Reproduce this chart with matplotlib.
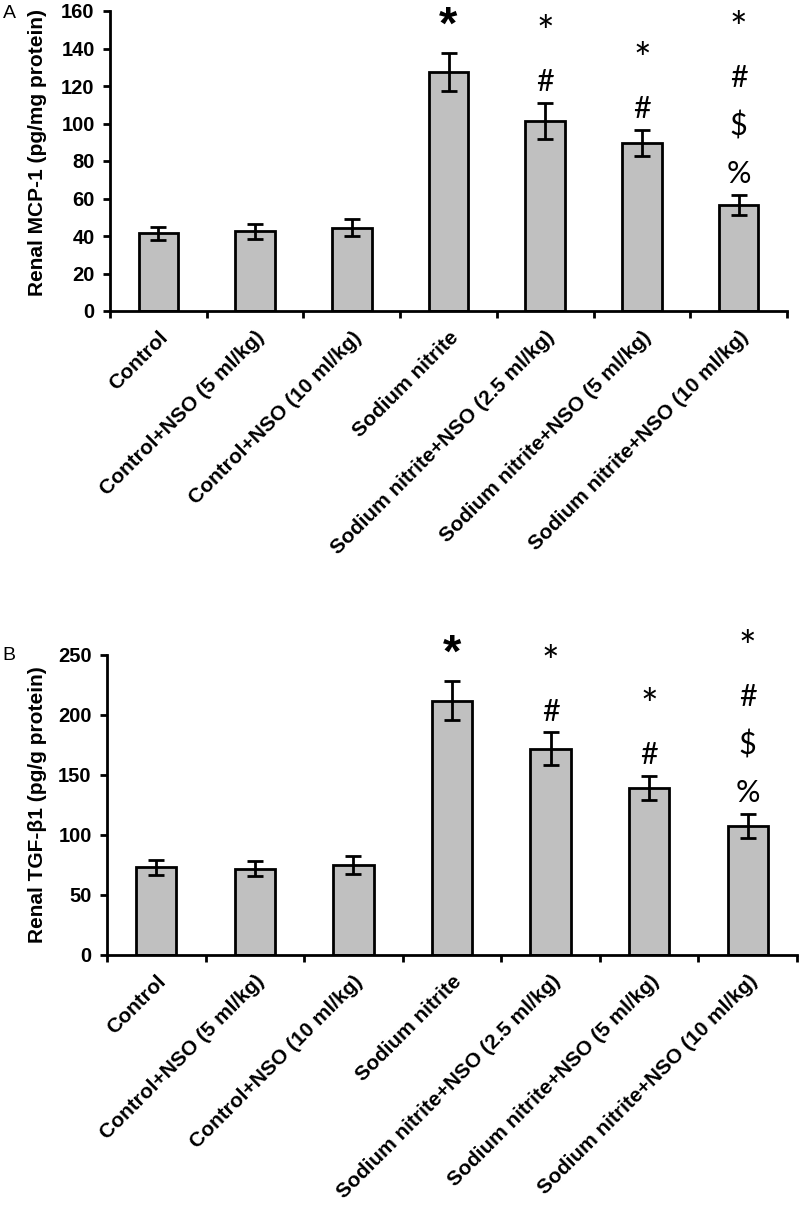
import numpy as np
import matplotlib
matplotlib.use('Agg')
import matplotlib.pyplot as plt

groups = ['Control', 'Control+NSO (5 ml/kg)', 'Control+NSO (10 ml/kg)', 'Sodium nitrite',
          'Sodium nitrite+NSO (2.5 ml/kg)', 'Sodium nitrite+NSO (5 ml/kg)',
          'Sodium nitrite+NSO (10 ml/kg)']

mcp1_mean = [41.5, 42.5, 44.5, 127.5, 101.5, 89.5, 56.5]
mcp1_sem = [3.5, 4.0, 4.5, 10.0, 9.5, 7.0, 5.5]

tgfb1_mean = [73.0, 72.0, 75.0, 212.0, 172.0, 139.0, 107.5]
tgfb1_sem = [6.5, 6.0, 7.5, 16.0, 13.5, 10.0, 10.0]

# significance symbols per group, listed from the bar upwards
marks = [[], [], [], ['*'], ['#', '*'], ['#', '*'], ['%', '$', '#', '*']]

AX_FONT = 'Liberation Sans'
SYM_FONT = 'Lato'


def draw_panel(ax, means, sems, ymax, ystep, ylabel, label_x, label_y):
    x = np.arange(len(groups))
    ax.bar(x, means, width=0.41, color='#c0c0c0', edgecolor='black', linewidth=2, zorder=2)
    ax.errorbar(x, means, yerr=sems, fmt='none', ecolor='black', elinewidth=2,
                capsize=5.5, capthick=2, zorder=3)

    for i, syms in enumerate(marks):
        top = means[i] + sems[i]
        for k, s in enumerate(syms):
            if i == 3:
                # the plain sodium nitrite group has a larger, heavier star
                ax.annotate(s, (x[i], top), xytext=(0, 19), textcoords='offset points',
                            ha='center', va='center', fontsize=34, fontweight='bold',
                            family=AX_FONT, annotation_clip=False)
            else:
                size = 30 if s == '*' else 22
                ax.annotate(s, (x[i], top), xytext=(0, 15 + 34.5 * k), textcoords='offset points',
                            ha='center', va='center', fontsize=size, family=SYM_FONT,
                            annotation_clip=False)

    ax.set_xlim(-0.5, len(groups) - 0.5)
    ax.set_ylim(0, ymax)
    ax.set_yticks(np.arange(0, ymax + 1, ystep))
    ax.set_xticks(x)
    ax.set_xticklabels(groups, rotation=45, ha='right', va='top', rotation_mode='anchor',
                       fontsize=15, fontweight='bold', family=AX_FONT)
    ax.set_xticks(np.arange(-0.5, len(groups), 1), minor=True)
    ax.tick_params(axis='x', which='major', length=0, pad=12)
    ax.tick_params(axis='x', which='minor', length=5, width=2, direction='out')
    ax.tick_params(axis='y', length=5, width=2, direction='out', pad=6)
    for lab in ax.get_yticklabels():
        lab.set_fontsize(14.5)
        lab.set_fontweight('bold')
        lab.set_family(AX_FONT)

    ax.set_ylabel(ylabel, fontsize=15, fontweight='bold', family=AX_FONT)
    ax.yaxis.set_label_coords(label_x, label_y)

    for side in ['top', 'right']:
        ax.spines[side].set_visible(False)
    for side in ['left', 'bottom']:
        ax.spines[side].set_linewidth(2)


fig = plt.figure(figsize=(8, 12.09), dpi=100)
W, H = 800, 1209

ax1 = fig.add_axes([110 / W, 1 - 311 / H, 677 / W, 300 / H])
draw_panel(ax1, mcp1_mean, mcp1_sem, 160, 20, 'Renal MCP-1 (pg/mg protein)', -0.093, 0.53)

ax2 = fig.add_axes([107 / W, 1 - 955 / H, 690 / W, 300 / H])
draw_panel(ax2, tgfb1_mean, tgfb1_sem, 250, 50, 'Renal TGF-β1 (pg/g protein)', -0.087, 0.5)

fig.text(9 / W, 1 - 14 / H, 'A', ha='center', va='center', fontsize=14, family=AX_FONT)
fig.text(9 / W, 1 - 656 / H, 'B', ha='center', va='center', fontsize=14, family=AX_FONT)

fig.savefig('out.png', dpi=100, facecolor='white')
